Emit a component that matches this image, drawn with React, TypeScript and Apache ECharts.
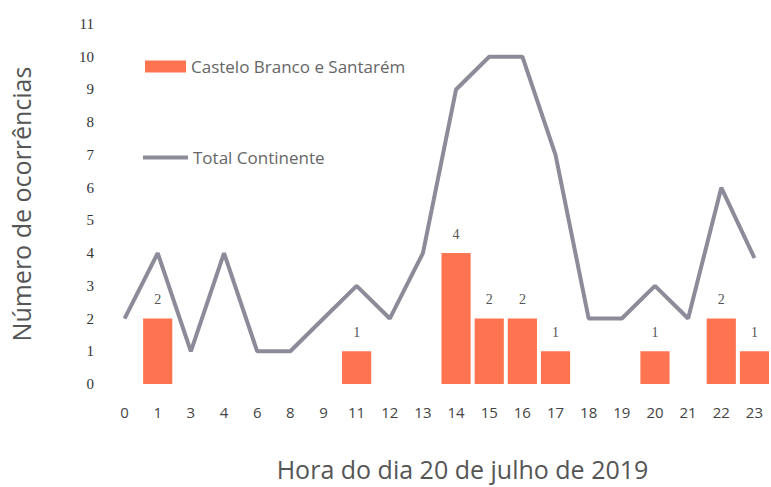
import React, { useEffect, useRef } from "react";
import * as echarts from "echarts";

const hours = ["0", "1", "3", "4", "6", "8", "9", "11", "12", "13", "14", "15", "16", "17", "18", "19", "20", "21", "22", "23"];
const castelo: (number | null)[] = [null, 2, null, null, null, null, null, 1, null, null, 4, 2, 2, 1, null, null, 1, null, 2, 1];
const total = [2, 4, 1, 4, 1, 1, 2, 3, 2, 4, 9, 10, 10, 7, 2, 2, 3, 2, 6, 3.85];
const yTicks = [0, 1, 2, 3, 4, 5, 6, 7, 8, 9, 10, 11];

const BAR_COLOR = "#ff7450";
const LINE_COLOR = "#8c8b99";
const SANS = "'Open Sans', 'Noto Sans', sans-serif";

export default function App() {
  const ref = useRef<HTMLDivElement>(null);
  useEffect(() => {
    if (!ref.current) return;
    const chart = echarts.init(ref.current, null, { renderer: "svg" });
    chart.setOption({
      animation: false,
      backgroundColor: "#ffffff",
      grid: { left: 107, top: 24, width: 667, height: 360 },
      legend: [
        {
          left: 140,
          top: 53,
          itemWidth: 41,
          itemHeight: 12,
          itemGap: 0,
          textStyle: { color: "#666", fontSize: 17, fontFamily: SANS },
          data: [{ name: "Castelo Branco e Santarém", icon: "rect" }],
        },
        {
          left: 138,
          top: 144,
          itemWidth: 45,
          itemHeight: 4,
          textStyle: { color: "#666", fontSize: 17, fontFamily: SANS },
          data: [{ name: "Total Continente", icon: "rect", itemStyle: { color: LINE_COLOR } }],
        },
      ],
      xAxis: {
        type: "category",
        data: hours,
        axisLine: { show: false },
        axisTick: { show: false },
        axisLabel: { color: "#444", fontSize: 15, margin: 20, fontFamily: SANS },
        name: "Hora do dia 20 de julho de 2019",
        nameLocation: "middle",
        nameGap: 72,
        nameTextStyle: { color: "#555", fontSize: 25, fontFamily: SANS, padding: [0, 0, 0, 46] },
      },
      yAxis: {
        type: "value",
        min: yTicks[0],
        max: yTicks[yTicks.length - 1],
        interval: 1,
        axisLine: { show: false },
        axisTick: { show: false },
        splitLine: { show: false },
        axisLabel: { color: "#333", fontSize: 15, margin: 14, fontFamily: "'Liberation Serif', serif" },
        name: "Número de ocorrências",
        nameLocation: "middle",
        nameGap: 75,
        nameTextStyle: { color: "#555", fontSize: 25, fontFamily: SANS },
      },
      series: [
        {
          name: "Castelo Branco e Santarém",
          type: "bar",
          data: castelo,
          barWidth: "88%",
          itemStyle: { color: BAR_COLOR },
          label: {
            show: true,
            position: "top",
            distance: 12,
            color: "#555",
            fontSize: 14,
            fontFamily: "'Liberation Serif', serif",
          },
        },
        {
          name: "Total Continente",
          type: "line",
          data: total,
          symbol: "none",
          lineStyle: { color: LINE_COLOR, width: 4 },
          itemStyle: { color: LINE_COLOR },
        },
      ],
    });
    return () => chart.dispose();
  }, []);
  return <div ref={ref} style={{ position: "absolute", left: 0, top: 0, width: 771, height: 487 }} />;
}
